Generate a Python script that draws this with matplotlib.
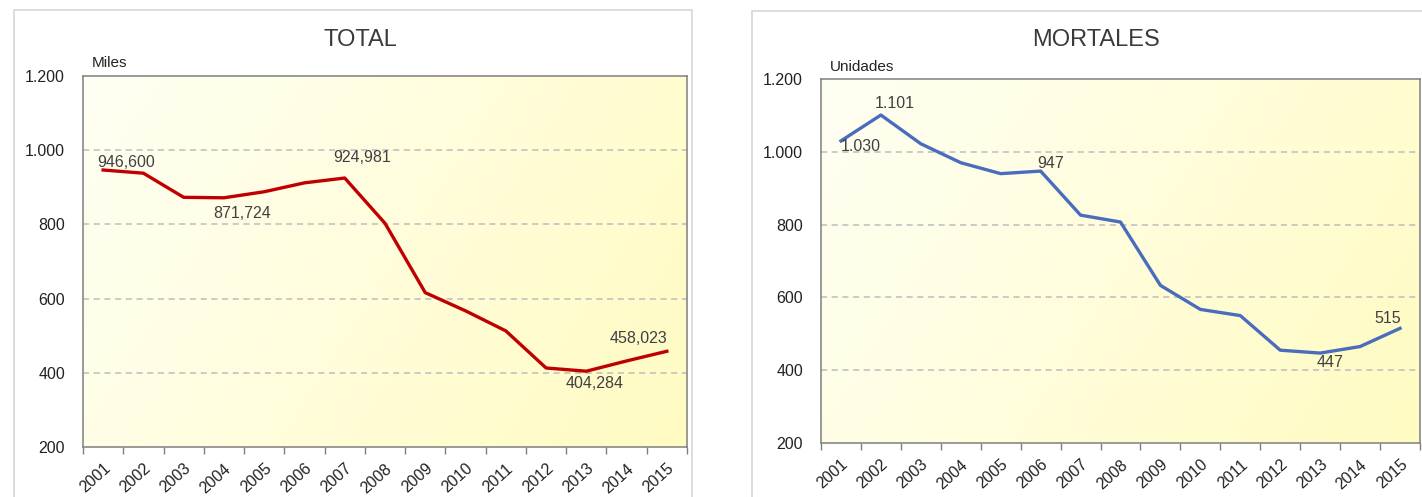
import numpy as np
import matplotlib
matplotlib.use("Agg")
import matplotlib.pyplot as plt
from matplotlib.patches import Rectangle

plt.rcParams['font.family'] = ['Liberation Sans', 'DejaVu Sans']

years = [str(y) for y in range(2001, 2016)]
total_miles = [946.6, 938, 873, 871.724, 888, 912, 924.981, 803, 616, 567, 513, 413, 404.284, 432, 458.023]
mortales = [1030, 1101, 1022, 970, 940, 947, 826, 807, 633, 567, 550, 455, 447, 465, 515]

yticks = [200, 400, 600, 800, 1000, 1200]
ytick_labels = ["200", "400", "600", "800", "1.000", "1.200"]
grid_levels = [400, 600, 800, 1000]

total_labels = {0: ("946,600", (23, 8)), 3: ("871,724", (18, -16)), 6: ("924,981", (17, 21)),
                12: ("404,284", (8, -12)), 14: ("458,023", (-28, 13))}
mort_labels = {0: ("1.030", (20, -6)), 1: ("1.101", (14, 12)), 5: ("947", (10, 8)),
               12: ("447", (10, -9)), 14: ("515", (-12, 10))}

W, H = 1422, 497
fig = plt.figure(figsize=(W / 100, H / 100), dpi=100)
fig.patch.set_facecolor('white')

# outer chart frames
fig.patches.append(Rectangle((14 / W, -0.05), (692 - 14) / W, 1 - 10 / H + 0.05,
                             transform=fig.transFigure, fill=False, edgecolor='#D6D6D6', lw=1.2))
fig.patches.append(Rectangle((752 / W, -0.05), (1422 - 752) / W + 0.01, 1 - 11 / H + 0.05,
                             transform=fig.transFigure, fill=False, edgecolor='#D6D6D6', lw=1.2))


def make_bg():
    nx, ny = 200, 100
    xx, yy = np.meshgrid(np.linspace(0, 1, nx), np.linspace(1, 0, ny))
    t = np.clip(0.72 * xx + 0.28 * (1 - yy), 0, 1)
    c0 = np.array([1.0, 1.0, 0.955])
    c1 = np.array([1.0, 0.985, 0.76])
    return c0[None, None, :] * (1 - t[..., None]) + c1[None, None, :] * t[..., None]


def draw(ax, values, color, labels, title, unit, title_x):
    x = np.arange(len(years))
    ax.imshow(make_bg(), extent=(0, 1, 0, 1), transform=ax.transAxes, aspect='auto', zorder=0)
    for g in grid_levels:
        ax.axhline(g, color='#BDBDBD', lw=1.1, ls=(0, (4, 3)), zorder=1)
    ax.plot(x, values, color=color, lw=2.4, zorder=3, solid_joinstyle='round')
    for i, (txt, off) in labels.items():
        ax.annotate(txt, (x[i], values[i]), xytext=off, textcoords='offset pixels',
                    ha='center', va='center', fontsize=11.5, color='#404040', zorder=4)
    ax.set_xlim(-0.5, len(years) - 0.5)
    ax.set_ylim(200, 1200)
    ax.set_yticks(yticks)
    ax.set_yticklabels(ytick_labels)
    ax.set_xticks(x)
    ax.set_xticklabels(years, rotation=42, ha='right', va='top', rotation_mode='anchor')
    ax.set_xticks(np.arange(-0.5, len(years), 1), minor=True)
    ax.tick_params(axis='x', which='major', length=0, pad=10, labelsize=11.5, colors='#222222')
    ax.tick_params(axis='x', which='minor', length=5, color='#7F7F7F', width=1)
    ax.tick_params(axis='y', length=0, pad=13, labelsize=11.5, colors='#222222')
    for s in ax.spines.values():
        s.set_color('#7F7F7F')
        s.set_linewidth(1.1)
    ax.text(0.015, 1.015, unit, transform=ax.transAxes, fontsize=11, color='#222222',
            ha='left', va='bottom')
    fig.text(title_x, 1 - 40 / H, title, fontsize=17, color='#3A3A3A', ha='center', va='center')


ax1 = fig.add_axes([83 / W, 1 - 447 / H, (687 - 83) / W, (447 - 76) / H])
draw(ax1, total_miles, '#C00000', total_labels, 'TOTAL', 'Miles', 360 / W)

ax2 = fig.add_axes([821 / W, 1 - 443 / H, (1420 - 821) / W, (443 - 79) / H])
draw(ax2, mortales, '#4A6CBC', mort_labels, 'MORTALES', 'Unidades', 1096 / W)

fig.savefig('out.png', dpi=100, facecolor='white')
